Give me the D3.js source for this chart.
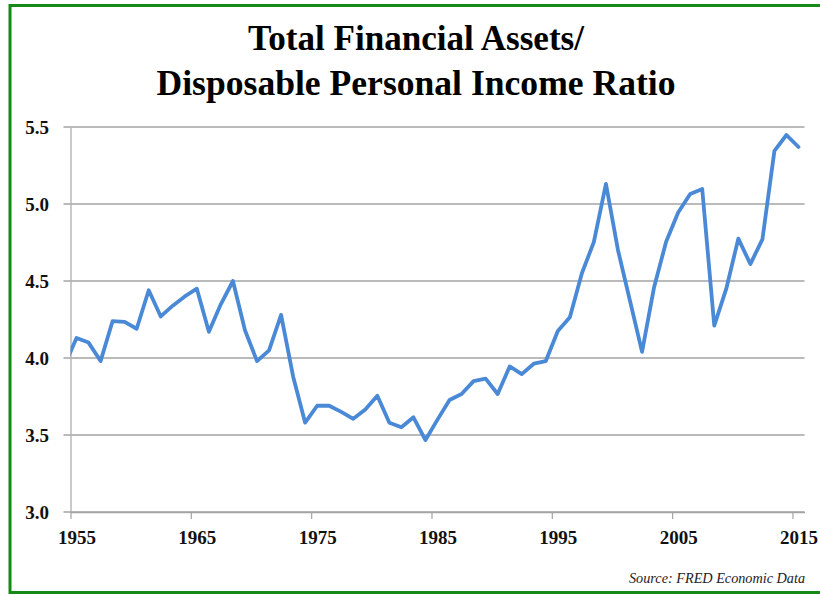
<!DOCTYPE html>
<html>
<head>
<meta charset="utf-8">
<script src="https://cdn.jsdelivr.net/npm/d3@7/dist/d3.min.js"></script>
<style>
  body { margin: 0; background: #fff; }
  svg text { font-family: "Palatino Linotype", "Book Antiqua", Palatino, "Liberation Serif", serif; }
</style>
</head>
<body>
<div id="chart"></div>
<script>
// annual ratio, FRED (1954 sits left of the axis and gets clipped)
var years = [1954, 1955, 1956, 1957, 1958, 1959, 1960, 1961, 1962, 1963,
  1964, 1965, 1966, 1967, 1968, 1969, 1970, 1971, 1972, 1973,
  1974, 1975, 1976, 1977, 1978, 1979, 1980, 1981, 1982, 1983,
  1984, 1985, 1986, 1987, 1988, 1989, 1990, 1991, 1992, 1993,
  1994, 1995, 1996, 1997, 1998, 1999, 2000, 2001, 2002, 2003,
  2004, 2005, 2006, 2007, 2008, 2009, 2010, 2011, 2012, 2013,
  2014, 2015]

var ratio = [3.95, 4.13, 4.10, 3.98, 4.24, 4.235, 4.19, 4.44, 4.27, 4.34,
  4.40, 4.45, 4.17, 4.35, 4.50, 4.18, 3.98, 4.05, 4.28, 3.88,
  3.58, 3.69, 3.69, 3.65, 3.605, 3.665, 3.755, 3.58, 3.55, 3.615,
  3.467, 3.60, 3.727, 3.766, 3.85, 3.866, 3.766, 3.945, 3.895, 3.963,
  3.98, 4.175, 4.265, 4.55, 4.755, 5.13, 4.70, 4.37, 4.04, 4.46,
  4.755, 4.945, 5.065, 5.097, 4.21, 4.45, 4.775, 4.61, 4.77, 5.345,
  5.448, 5.37]

var yTicks = [3.0, 3.5, 4.0, 4.5, 5.0, 5.5]
var xTicks = [1955, 1965, 1975, 1985, 1995, 2005, 2015]

var titleLines = ["Total Financial Assets/", "Disposable Personal Income Ratio"]
var source = "Source: FRED Economic Data"

var margin = { top: 127, left: 70.5, right: 15.5, bottom: 82 },
   width = 820 - margin.left - margin.right,
   height = 594 - margin.top - margin.bottom

var root = d3.select("#chart")
  .append("svg")
  .attr("width", 820)
  .attr("height", 594)

// green frame, right edge runs off the page
root.append("rect")
  .attr("x", 10)
  .attr("y", 5.5)
  .attr("width", 900)
  .attr("height", 587)
  .attr("fill", "none")
  .attr("stroke", "#168a16")
  .attr("stroke-width", 3)

root.selectAll(".title")
  .data(titleLines)
  .enter().append("text")
  .attr("class", "title")
  .attr("x", 416)
  .attr("y", function(d, i) { return 50 + i * 44.5 })
  .attr("text-anchor", "middle")
  .attr("font-size", 35)
  .attr("font-weight", "bold")
  .attr("fill", "#000")
  .attr("textLength", function(d, i) { return i == 0 ? 336 : 519 })
  .attr("lengthAdjust", "spacingAndGlyphs")
  .text(function(d) { return d })

root.append("text")
  .attr("x", 805)
  .attr("y", 583)
  .attr("text-anchor", "end")
  .attr("font-size", 14)
  .attr("font-style", "italic")
  .attr("fill", "#222")
  .attr("textLength", 176)
  .attr("lengthAdjust", "spacingAndGlyphs")
  .text(source)

var svg = root.append("g")
  .attr("transform", "translate(" + margin.left + "," + margin.top + ")")

var x = d3.scaleLinear()
  .domain([1955, 2016])
  .range([0, width])

var y = d3.scaleLinear()
  .domain([3, 5.5])
  .range([height, 0])

// gridlines
svg.selectAll(".grid")
  .data(yTicks)
  .enter().append("line")
  .attr("class", "grid")
  .attr("x1", -7)
  .attr("x2", width)
  .attr("y1", function(d) { return y(d) })
  .attr("y2", function(d) { return y(d) })
  .attr("stroke", "#a3a3a3")
  .attr("stroke-width", 1.4)

var yAxis = svg.append("g")
  .call(d3.axisLeft(y)
    .tickValues(yTicks)
    .tickFormat(d3.format(".1f"))
    .tickSize(0)
    .tickPadding(21.5))
yAxis.select(".domain").attr("stroke", "#b3b3b3").attr("stroke-width", 1.4)
yAxis.selectAll("text")
  .attr("font-size", 19)
  .attr("font-weight", "bold")
  .attr("fill", "#111")

var halfYear = x(1955.5) - x(1955)

var xAxis = svg.append("g")
  .attr("transform", "translate(0," + height + ")")
  .call(d3.axisBottom(x)
    .tickValues(xTicks)
    .tickFormat(d3.format("d"))
    .tickSizeInner(7)
    .tickSizeOuter(0)
    .tickPadding(12))
xAxis.select(".domain").attr("stroke", "#a3a3a3").attr("stroke-width", 1.4)
xAxis.selectAll(".tick line").attr("stroke", "#a3a3a3").attr("stroke-width", 1.2)
xAxis.selectAll("text")
  .attr("x", halfYear)
  .attr("font-size", 19)
  .attr("font-weight", "bold")
  .attr("fill", "#111")

svg.append("clipPath")
  .attr("id", "plot-clip")
  .append("rect")
  .attr("x", 0)
  .attr("y", -20)
  .attr("width", width)
  .attr("height", height + 40)

var line = d3.line()
  .x(function(d) { return x(d.year + 0.5) })
  .y(function(d) { return y(d.value) })

var points = years.map(function(yr, i) { return { year: yr, value: ratio[i] } })

svg.append("path")
  .datum(points)
  .attr("clip-path", "url(#plot-clip)")
  .attr("d", line)
  .attr("fill", "none")
  .attr("stroke", "#4a89d6")
  .attr("stroke-width", 3.8)
  .attr("stroke-linejoin", "round")
  .attr("stroke-linecap", "round")
</script>
</body>
</html>
